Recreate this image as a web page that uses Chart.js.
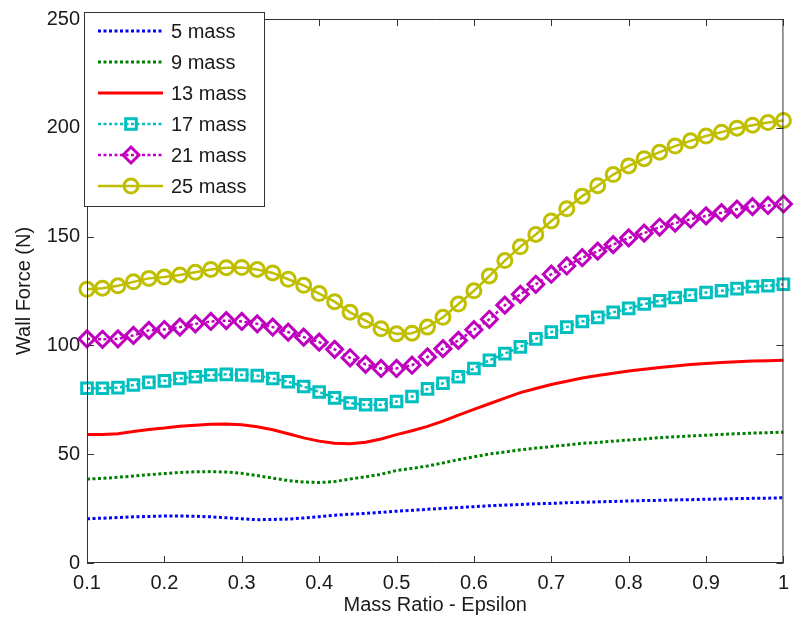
<!DOCTYPE html>
<html>
<head>
<meta charset="utf-8">
<script src="https://cdn.jsdelivr.net/npm/chart.js@4.4.0/dist/chart.umd.min.js"></script>
<style>
  html, body { margin: 0; padding: 0; background: #fff; }
  #wrap { width: 797px; height: 626px; }
</style>
</head>
<body>
<div id="wrap"><canvas id="mycanvas" width="797" height="626"></canvas></div>
<script>
// mass ratio values (x)
var epsilon = [0.10, 0.12, 0.14, 0.16, 0.18, 0.20, 0.22, 0.24, 0.26, 0.28,
               0.30, 0.32, 0.34, 0.36, 0.38, 0.40, 0.42, 0.44, 0.46, 0.48,
               0.50, 0.52, 0.54, 0.56, 0.58, 0.60, 0.62, 0.64, 0.66, 0.68,
               0.70, 0.72, 0.74, 0.76, 0.78, 0.80, 0.82, 0.84, 0.86, 0.88,
               0.90, 0.92, 0.94, 0.96, 0.98, 1.00];

// wall force per mass count (N)
var mass5 = [20.3, 20.6, 20.9, 21.2, 21.4, 21.6, 21.6, 21.5, 21.2, 20.8,
             20.3, 19.9, 20.0, 20.2, 20.7, 21.3, 22.0, 22.4, 22.8, 23.3,
             23.8, 24.2, 24.7, 25.1, 25.5, 25.9, 26.3, 26.6, 26.9, 27.2,
             27.4, 27.7, 27.9, 28.1, 28.3, 28.5, 28.7, 28.8, 29.0, 29.1,
             29.3, 29.4, 29.6, 29.7, 29.8, 30.0];
var mass9 = [38.6, 38.9, 39.4, 40.0, 40.6, 41.1, 41.6, 41.9, 42.0, 41.8,
             41.2, 40.2, 39.0, 37.9, 37.2, 37.0, 37.4, 38.6, 39.6, 40.8,
             42.5, 43.5, 44.6, 46.0, 47.5, 48.8, 50.1, 51.0, 52.0, 52.8,
             53.5, 54.2, 55.0, 55.4, 56.0, 56.5, 57.0, 57.6, 58.0, 58.4,
             58.7, 59.1, 59.4, 59.7, 59.9, 60.1];
var mass13 = [59.0, 59.1, 59.4, 60.4, 61.4, 62.0, 62.8, 63.3, 63.8, 63.9,
              63.5, 62.6, 61.2, 59.4, 57.5, 56.0, 55.0, 54.8, 55.5, 57.0,
              59.0, 60.8, 62.8, 65.2, 68.0, 70.6, 73.2, 75.8, 78.3, 80.2,
              82.0, 83.5, 85.0, 86.2, 87.2, 88.2, 89.0, 89.8, 90.5, 91.2,
              91.7, 92.1, 92.5, 92.8, 93.0, 93.2];
var mass17 = [80.3, 80.3, 80.6, 81.8, 83.0, 83.7, 84.8, 85.6, 86.4, 86.7,
              86.4, 86.1, 84.8, 83.3, 81.1, 78.6, 75.9, 73.5, 72.7, 72.7,
              74.2, 76.5, 80.0, 82.6, 85.6, 89.4, 93.2, 96.2, 99.3, 103.0,
              106.1, 108.4, 111.0, 112.9, 115.2, 117.0, 119.0, 120.5, 122.0, 123.1,
              124.3, 125.1, 126.1, 127.0, 127.4, 128.1];
var mass21 = [103.0, 102.8, 103.0, 104.6, 106.9, 107.3, 108.4, 109.9, 111.0, 111.4,
              111.0, 109.9, 108.4, 106.1, 103.8, 101.5, 98.2, 94.3, 91.3, 89.4,
              89.4, 90.9, 94.7, 98.5, 102.3, 107.2, 112.0, 118.5, 123.5, 128.1,
              132.7, 136.5, 140.3, 143.3, 146.3, 149.4, 151.6, 154.4, 156.2, 158.0,
              159.5, 161.0, 162.6, 163.8, 164.3, 165.0];
var mass25 = [125.8, 126.3, 127.4, 129.2, 130.8, 131.4, 132.4, 133.6, 134.9, 135.7,
              135.8, 134.9, 133.3, 130.4, 127.6, 123.8, 120.1, 115.2, 111.4, 107.6,
              105.3, 105.6, 108.4, 112.9, 119.0, 125.1, 131.9, 139.0, 145.3, 151.0,
              157.2, 162.8, 168.6, 173.4, 178.5, 182.5, 185.8, 188.8, 191.6, 194.0,
              196.2, 198.0, 199.8, 201.2, 202.4, 203.4];

var seriesLabels = ['5 mass', '9 mass', '13 mass', '17 mass', '21 mass', '25 mass'];
var xTicks = [0.1, 0.2, 0.3, 0.4, 0.5, 0.6, 0.7, 0.8, 0.9, 1];
var yTicks = [0, 50, 100, 150, 200, 250];

var AXIS = '#333333';
var TEXT = '#1a1a1a';
Chart.defaults.font.family = 'Arial, "Liberation Sans", sans-serif';
Chart.defaults.font.size = 20;
Chart.defaults.color = TEXT;

function pts(vals){
    var out = [];
    for (var i in vals) out.push({x: epsilon[i], y: vals[i]});
    return out;
}

function makeSet(label, vals, color, dash, width, style, radius){
    return {
        label: label,
        data: pts(vals),
        borderColor: color,
        backgroundColor: 'rgba(0,0,0,0)',
        borderWidth: width,
        borderDash: dash,
        pointStyle: style,
        pointRadius: style ? radius : 0,
        pointBorderWidth: 3,
        pointBorderColor: color,
        pointBackgroundColor: 'rgba(0,0,0,0)',
        tension: 0,
        clip: false
    };
}

var dot = [3, 2.5];
var datasets = [
    makeSet(seriesLabels[0], mass5, '#0000ff', dot, 3, false, 0),
    makeSet(seriesLabels[1], mass9, '#008000', dot, 3, false, 0),
    makeSet(seriesLabels[2], mass13, '#ff0000', [], 3, false, 0),
    makeSet(seriesLabels[3], mass17, '#00bfbf', dot, 2.5, 'rect', 7.5),
    makeSet(seriesLabels[4], mass21, '#bf00bf', dot, 2.5, 'rectRot', 8),
    makeSet(seriesLabels[5], mass25, '#bfbf00', [], 2.5, 'circle', 7)
];

// box around plot area with inward ticks (MATLAB look)
var framePlugin = {
    id: 'frame',
    afterDatasetsDraw: function(chart){
        var c = chart.ctx, a = chart.chartArea;
        var xs = chart.scales.x, ys = chart.scales.y;
        var tl = 7;
        c.save();
        c.strokeStyle = AXIS;
        c.lineWidth = 1;
        c.beginPath();
        c.rect(a.left + 0.5, a.top + 0.5, a.right - a.left - 1, a.bottom - a.top - 1);
        xTicks.forEach(function(t){
            var px = Math.round(xs.getPixelForValue(t)) + 0.5;
            c.moveTo(px, a.bottom); c.lineTo(px, a.bottom - tl);
            c.moveTo(px, a.top); c.lineTo(px, a.top + tl);
        });
        yTicks.forEach(function(t){
            var py = Math.round(ys.getPixelForValue(t)) + 0.5;
            c.moveTo(a.left, py); c.lineTo(a.left + tl, py);
            c.moveTo(a.right, py); c.lineTo(a.right - tl, py);
        });
        c.stroke();
        c.restore();
    }
};

// legend box with line + marker samples
var legendPlugin = {
    id: 'boxLegend',
    afterDraw: function(chart){
        var c = chart.ctx;
        var bx = 84, by = 12, bw = 180, bh = 194;
        c.save();
        c.fillStyle = '#ffffff';
        c.fillRect(bx, by, bw, bh);
        c.strokeStyle = AXIS;
        c.lineWidth = 1;
        c.strokeRect(bx + 0.5, by + 0.5, bw, bh);
        chart.data.datasets.forEach(function(ds, i){
            var y = 31 + i * 31;
            c.strokeStyle = ds.borderColor;
            c.lineWidth = ds.borderWidth;
            c.setLineDash(ds.borderDash);
            c.beginPath();
            c.moveTo(98, y); c.lineTo(163, y);
            c.stroke();
            c.setLineDash([]);
            if (ds.pointStyle) {
                c.lineWidth = ds.pointBorderWidth;
                c.strokeStyle = ds.pointBorderColor;
                c.fillStyle = 'rgba(0,0,0,0)';
                Chart.helpers.drawPoint(c, {pointStyle: ds.pointStyle, radius: ds.pointRadius, rotation: 0, borderWidth: ds.pointBorderWidth}, 131, y);
            }
            c.fillStyle = TEXT;
            c.font = '20px Arial, "Liberation Sans", sans-serif';
            c.textBaseline = 'middle';
            c.textAlign = 'left';
            c.fillText(ds.label, 171, y + 1);
        });
        c.restore();
    }
};

var ctx = document.getElementById('mycanvas');
var chart = new Chart(ctx, {
    type: 'line',
    data: { datasets: datasets },
    options: {
        responsive: false,
        animation: false,
        layout: { padding: { top: 13, right: 5, left: 0, bottom: 0 } },
        plugins: { legend: { display: false }, tooltip: { enabled: false } },
        scales: {
            x: {
                type: 'linear',
                min: 0.1,
                max: 1,
                grid: { display: false, drawTicks: false },
                border: { display: false },
                afterBuildTicks: function(s){ s.ticks = xTicks.map(function(v){ return {value: v}; }); },
                afterFit: function(s){ s.height = 63; },
                ticks: {
                    padding: 8,
                    maxRotation: 0,
                    autoSkip: false,
                    color: TEXT,
                    callback: function(v){ return String(+v.toFixed(1)); }
                },
                title: { display: true, text: 'Mass Ratio - Epsilon', color: TEXT, padding: { top: 9, bottom: 9 } }
            },
            y: {
                min: 0,
                max: 250,
                grid: { display: false, drawTicks: false },
                border: { display: false },
                afterBuildTicks: function(s){ s.ticks = yTicks.map(function(v){ return {value: v}; }); },
                afterFit: function(s){ s.width = 87; },
                ticks: { padding: 7, color: TEXT, autoSkip: false },
                title: { display: true, text: 'Wall Force (N)', color: TEXT, padding: { top: 12, bottom: 12 } }
            }
        }
    },
    plugins: [framePlugin, legendPlugin]
});
</script>
</body>
</html>
